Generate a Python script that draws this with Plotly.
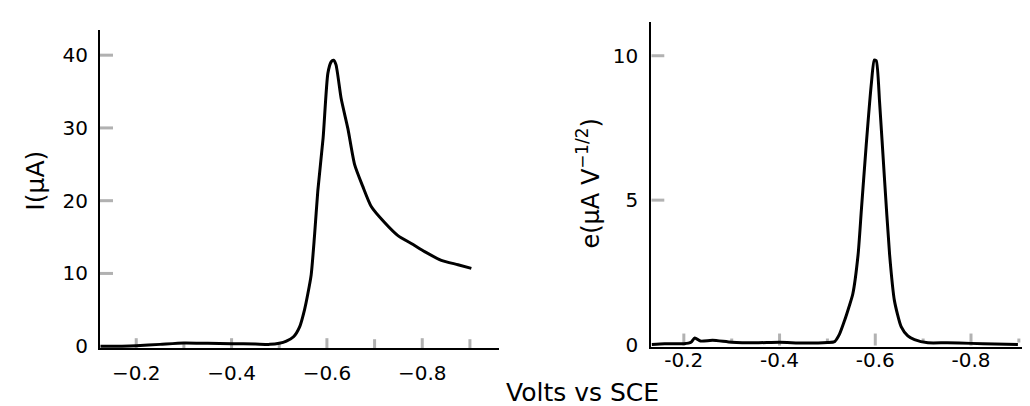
import plotly.graph_objects as go

# Left panel: current vs potential
volts_i = [-0.125, -0.17, -0.20, -0.25, -0.30, -0.35, -0.40, -0.45, -0.48, -0.50, -0.515,
           -0.53, -0.543, -0.553, -0.560, -0.567, -0.574, -0.581, -0.592, -0.602, -0.609,
           -0.614, -0.619, -0.630, -0.644, -0.658, -0.675, -0.693, -0.721, -0.749, -0.78,
           -0.805, -0.840, -0.875, -0.903]
current = [0.0, 0.0, 0.05, 0.25, 0.45, 0.4, 0.35, 0.3, 0.25, 0.4, 0.7,
           1.3, 2.7, 5.0, 7.2, 9.8, 15.2, 21.4, 28.6, 37.5, 39.1,
           39.3, 38.7, 34.0, 29.9, 25.0, 22.0, 19.2, 17.0, 15.2, 14.0,
           13.0, 11.8, 11.2, 10.7]

# Right panel: semidifferential
volts_e = [-0.133, -0.16, -0.20, -0.215, -0.223, -0.235, -0.26, -0.30, -0.35, -0.40,
           -0.45, -0.50, -0.515, -0.525, -0.536, -0.545, -0.553, -0.564, -0.571, -0.581,
           -0.592, -0.598, -0.602, -0.609, -0.619, -0.630, -0.640, -0.654, -0.668, -0.682,
           -0.71, -0.75, -0.80, -0.85, -0.898]
e_vals = [0.0, 0.03, 0.03, 0.08, 0.23, 0.12, 0.15, 0.08, 0.06, 0.08,
          0.05, 0.07, 0.1, 0.35, 0.84, 1.3, 1.75, 3.1, 4.67, 6.9,
          9.07, 9.85, 9.83, 8.39, 5.8, 3.1, 1.52, 0.62, 0.3, 0.17,
          0.06, 0.06, 0.04, 0.02, 0.0]

x_tickvals = [-0.2, -0.4, -0.6, -0.8]
x_minorvals = [-0.3, -0.5, -0.7, -0.9]
x_ticktext_left = ["\u22120.2", "\u22120.4", "\u22120.6", "\u22120.8"]
x_ticktext_right = ["-0.2", "-0.4", "-0.6", "-0.8"]
y_left_ticks = [0, 10, 20, 30, 40]
y_right_ticks = [0, 5, 10]

FONT = "DejaVu Sans"
W, H = 1030, 406

def px_x(p):
    return p / W

def px_y(p):
    return 1 - p / H

L_X = [px_x(92), px_x(491)]
L_Y = [px_y(348.6), px_y(23)]
R_X = [px_x(643.3), 1.0]
R_Y = [px_y(347.4), px_y(14)]
L_XR = [-0.124, -0.961]
L_YR = [-0.25, 43.4]
R_XR = [-0.132, -0.940]
R_YR = [-0.08, 11.18]

line_style = dict(color="black", width=3, shape="spline", smoothing=0.6)

fig = go.Figure()
fig.add_trace(go.Scatter(x=volts_i, y=current, mode="lines", line=line_style,
                         xaxis="x", yaxis="y", showlegend=False, hoverinfo="skip"))
fig.add_trace(go.Scatter(x=volts_e, y=e_vals, mode="lines", line=line_style,
                         xaxis="x2", yaxis="y2", showlegend=False, hoverinfo="skip"))

base = dict(showgrid=False, zeroline=False, showline=True, linecolor="black", linewidth=2,
            ticks="", tickfont=dict(family=FONT, size=20, color="black"))

# tick marks drawn as pixel-sized shapes anchored on the axes' own coordinates
tick_line = dict(color="black", width=3)
shapes = []

def xtick(xref, yref, xv, yanchor, lo, hi):
    shapes.append(dict(type="line", xref=xref, yref=yref, x0=xv, x1=xv,
                       ysizemode="pixel", yanchor=yanchor, y0=lo, y1=hi,
                       line=tick_line, layer="above"))

def ytick(xref, yref, yv, xanchor, lo, hi):
    shapes.append(dict(type="line", xref=xref, yref=yref, y0=yv, y1=yv,
                       xsizemode="pixel", xanchor=xanchor, x0=lo, x1=hi,
                       line=tick_line, layer="above"))

for v in x_tickvals:
    xtick("x", "y", v, 0, -8, 8)
for v in x_minorvals:
    if v in (-0.7, -0.9):
        xtick("x", "y", v, 0, -7, 7)
    else:
        xtick("x", "y", v, 0, -4, 4)
for v in y_left_ticks[1:]:
    ytick("x", "y", v, L_XR[0], 0, 13)

for v in x_tickvals:
    xtick("x2", "y2", v, 0, -1, 11)
for v in x_minorvals:
    xtick("x2", "y2", v, 0, 2, 6)
for v in y_right_ticks[1:]:
    ytick("x2", "y2", v, R_XR[0], 0, 13)

fig.update_layout(
    template="simple_white",
    width=W, height=H,
    margin=dict(l=0, r=0, t=0, b=0),
    paper_bgcolor="white", plot_bgcolor="white",
    xaxis=dict(domain=L_X, range=L_XR, anchor="y",
               tickmode="array", tickvals=x_tickvals, ticktext=x_ticktext_left,
               ticklabelstandoff=6, **base),
    yaxis=dict(domain=L_Y, range=L_YR, anchor="x",
               tickmode="array", tickvals=y_left_ticks, ticklabelstandoff=6, **base),
    xaxis2=dict(domain=R_X, range=R_XR, anchor="y2",
                tickmode="array", tickvals=x_tickvals, ticktext=x_ticktext_right,
                ticklabelstandoff=-6, **base),
    yaxis2=dict(domain=R_Y, range=R_YR, anchor="x2",
                tickmode="array", tickvals=y_right_ticks, ticklabelstandoff=7, **base),
    shapes=shapes,
    annotations=[
        dict(text="I(\u03bcA)", xref="paper", yref="paper", x=px_x(28), y=px_y(177),
             showarrow=False, textangle=-90, xanchor="center", yanchor="middle",
             font=dict(family=FONT, size=25, color="black")),
        dict(text="e(\u03bcA V<sup>\u22121/2</sup>)", xref="paper", yref="paper",
             x=px_x(580), y=px_y(180),
             showarrow=False, textangle=-90, xanchor="center", yanchor="middle",
             font=dict(family=FONT, size=24, color="black")),
        dict(text="Volts vs SCE", xref="paper", yref="paper", x=px_x(574), y=px_y(394),
             showarrow=False, xanchor="center", yanchor="middle",
             font=dict(family=FONT, size=25, color="black")),
    ],
)

fig.write_html("out.html")
